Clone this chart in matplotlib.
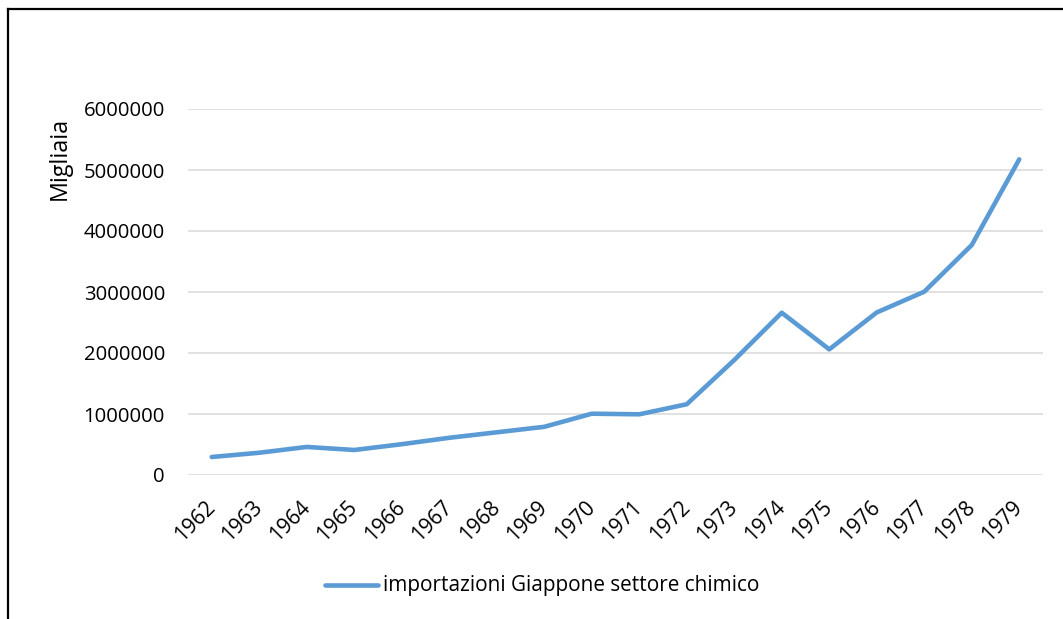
import matplotlib
matplotlib.use("Agg")
import matplotlib.pyplot as plt
from matplotlib.lines import Line2D

years = ["1962", "1963", "1964", "1965", "1966", "1967", "1968", "1969", "1970",
         "1971", "1972", "1973", "1974", "1975", "1976", "1977", "1978", "1979"]
values = [295000, 365000, 460000, 410000, 505000, 610000, 700000, 790000, 1005000,
          995000, 1160000, 1885000, 2660000, 2060000, 2665000, 3005000, 3770000, 5175000]
y_ticks = [0, 1000000, 2000000, 3000000, 4000000, 5000000, 6000000]
series_name = "importazioni Giappone settore chimico"
y_label = "Migliaia"

FAMILY = ['Open Sans', 'Noto Sans', 'DejaVu Sans']
plt.rcParams['font.family'] = FAMILY

W, H = 1063, 619
fig = plt.figure(figsize=(W / 100, H / 100), dpi=100)
fig.patch.set_facecolor("white")
renderer = fig.canvas.get_renderer()


def fit_size(s, target_px, base=14.0):
    t = fig.text(0, 0, s, fontsize=base)
    w = t.get_window_extent(renderer).width
    t.remove()
    return base * target_px / w


tick_fs = fit_size("6000000", 82)
leg_fs = fit_size(series_name, 379)
ylab_fs = fit_size(y_label, 83)

left, right, bottom, top = 188, 1043, 475, 109
ax = fig.add_axes([left / W, 1 - bottom / H, (right - left) / W, (bottom - top) / H])

x = list(range(len(years)))
line, = ax.plot(x, values, color="#5B9BD5", lw=3.3, solid_capstyle="round",
                solid_joinstyle="round", label=series_name, zorder=3)

ax.set_xlim(-0.5, len(years) - 0.5)
ax.set_ylim(0, 6000000)
ax.set_yticks(y_ticks)
ax.set_yticklabels([str(v) for v in y_ticks], fontsize=tick_fs, color="#000000")
ax.set_xticks(x)
ax.set_xticklabels(years, fontsize=tick_fs * 1.04, rotation=45, ha="right", va="center",
                   rotation_mode="anchor")
ax.tick_params(axis="both", length=0)
ax.tick_params(axis="y", pad=23 * 0.72)
ax.tick_params(axis="x", pad=29 * 0.72)
ax.grid(axis="y", color="#D9D9D9", lw=1.1, zorder=0)
for s in ax.spines.values():
    s.set_visible(False)
ax.set_axisbelow(True)

fig.text(60 / W, 1 - 158 / H, y_label, rotation=90, fontsize=ylab_fs,
         ha="center", va="center")

# legend: handle line 324-379 px, text from 383 px
fig.add_artist(Line2D([325 / W, 378 / W], [1 - 585 / H, 1 - 585 / H],
                      transform=fig.transFigure, color="#5B9BD5", lw=3.3,
                      solid_capstyle="round"))
fig.text(383 / W, 1 - 585 / H, series_name, fontsize=leg_fs, ha="left", va="center")

# outer chart border (left and top visible)
fig.add_artist(Line2D([7.5 / W, 7.5 / W], [0, 1 - 9 / H], transform=fig.transFigure,
                      color="black", lw=1.6))
fig.add_artist(Line2D([7.5 / W, 1], [1 - 9 / H, 1 - 9 / H], transform=fig.transFigure,
                      color="black", lw=1.6))

fig.savefig("out.png", dpi=100, facecolor="white")
